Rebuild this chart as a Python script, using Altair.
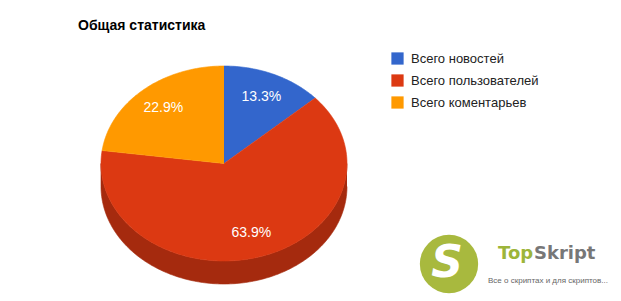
import numpy as np
import pandas as pd
import altair as alt

W, H = 621, 301

# ---- data ----
labels = ["Всего новостей", "Всего пользователей", "Всего коментарьев"]
values = [13.3, 63.9, 22.9]
colors = ["#3366CC", "#DC3912", "#FF9900"]
side_colors = ["#24478f", "#a52a0e", "#b36b00"]
chart_title = "Общая статистика"

# ---- geometry (3D tilted pie, Google-style) ----
cx, cy, rx, ry, depth = 224, 163.5, 123, 97.5, 23
total = float(sum(values))
bounds = np.concatenate([[0.0], np.cumsum(values) / total * 360.0])

top_rows, side_rows, lab_rows = [], [], []
for k, (lab, v) in enumerate(zip(labels, values)):
    s, e = bounds[k], bounds[k + 1]
    n = max(2, int(np.ceil(e - s)))
    angs = np.linspace(s, e, n + 1)
    top_rows.append({"slice": lab, "i": 0, "x": 0.0, "y": 0.0})
    for j, a in enumerate(angs):
        r = np.radians(a)
        top_rows.append({"slice": lab, "i": j + 1, "x": np.sin(r), "y": np.cos(r)})
    # visible front side (angles 90..270 clockwise from top)
    lo, hi = max(s, 90.0), min(e, 270.0)
    if lo < hi:
        m = max(2, int(np.ceil(hi - lo)))
        sa = np.linspace(lo, hi, m + 1)
        idx = 0
        for a in sa:
            r = np.radians(a)
            side_rows.append({"slice": lab, "i": idx, "x": np.sin(r), "y": np.cos(r)})
            idx += 1
        for a in sa[::-1]:
            r = np.radians(a)
            side_rows.append({"slice": lab, "i": idx, "x": np.sin(r), "y": np.cos(r) - depth / ry})
            idx += 1
    mid = np.radians((s + e) / 2)
    lab_rows.append({"slice": lab, "x": 0.75 * np.sin(mid), "y": 0.75 * np.cos(mid),
                     "text": f"{v:.1f}%"})

top_df = pd.DataFrame(top_rows)
side_df = pd.DataFrame(side_rows)
lab_df = pd.DataFrame(lab_rows)

xs = alt.Scale(domain=[(0 - cx) / rx, (W - cx) / rx], nice=False, zero=False)
ys = alt.Scale(domain=[(cy - H) / ry, cy / ry], nice=False, zero=False)
X = alt.X("x:Q", scale=xs, axis=None)
Y = alt.Y("y:Q", scale=ys, axis=None)

side_scale = alt.Scale(domain=labels, range=side_colors)
top_scale = alt.Scale(domain=labels, range=colors)

side = alt.Chart(side_df).mark_line(filled=True, strokeWidth=0.6, interpolate="linear").encode(
    x=X, y=Y,
    fill=alt.Fill("slice:N", scale=side_scale, legend=None),
    stroke=alt.Stroke("slice:N", scale=side_scale, legend=None),
    order=alt.Order("i:Q"),
    detail="slice:N",
)

top = alt.Chart(top_df).mark_line(filled=True, strokeWidth=0.6, interpolate="linear").encode(
    x=X, y=Y,
    fill=alt.Fill("slice:N", scale=top_scale, sort=labels,
                  legend=alt.Legend(title=None, orient="none", legendX=391, legendY=52,
                                    symbolType="square", symbolSize=150,
                                    symbolStrokeWidth=0, labelFont="Liberation Sans",
                                    labelFontSize=13, labelColor="#222222",
                                    rowPadding=8, labelOffset=7, padding=0)),
    stroke=alt.Stroke("slice:N", scale=top_scale, legend=None),
    order=alt.Order("i:Q"),
    detail="slice:N",
)

pct = alt.Chart(lab_df).mark_text(font="Liberation Sans", fontSize=14, color="white",
                                  align="center", baseline="middle").encode(
    x=X, y=Y, text="text:N"
)

one = pd.DataFrame({"t": [chart_title]})
title = alt.Chart(one).mark_text(font="Liberation Sans", fontSize=14, fontWeight="bold",
                                 color="#000000", align="left", baseline="alphabetic").encode(
    x=alt.value(78), y=alt.value(30), text="t:N"
)

# ---- watermark logo ----
logo_df = pd.DataFrame({"s": ["S"], "top": ["Top"], "skr": ["Skript"],
                        "sub": ["Все о скриптах и для скриптов..."]})
circ = alt.Chart(logo_df).mark_circle(size=3400, color="#a8b93e", opacity=1).encode(
    x=alt.value(449), y=alt.value(264))
s_txt = alt.Chart(logo_df).mark_text(font="DejaVu Sans", fontSize=44, fontWeight="bold",
                                     fontStyle="italic", color="white",
                                     align="center", baseline="middle").encode(
    x=alt.value(447), y=alt.value(264), text="s:N")
t_top = alt.Chart(logo_df).mark_text(font="DejaVu Sans", fontSize=18, fontWeight="bold",
                                     color="#9db53a", align="left", baseline="alphabetic").encode(
    x=alt.value(498), y=alt.value(259), text="top:N")
t_skr = alt.Chart(logo_df).mark_text(font="DejaVu Sans", fontSize=18, fontWeight="bold",
                                     color="#777777", align="left", baseline="alphabetic").encode(
    x=alt.value(534), y=alt.value(259), text="skr:N")
t_sub = alt.Chart(logo_df).mark_text(font="Liberation Sans", fontSize=8, color="#666666",
                                     align="left", baseline="middle").encode(
    x=alt.value(488), y=alt.value(281), text="sub:N")

chart = alt.layer(side, top, pct, title, circ, s_txt, t_top, t_skr, t_sub).resolve_scale(
    fill="independent", stroke="independent"
).properties(
    width=W, height=H, autosize=alt.AutoSizeParams(type="none"), padding=0,
    background="white"
).configure_view(stroke=None)

chart.save("out.html", embed_options={"renderer": "svg", "actions": False})
